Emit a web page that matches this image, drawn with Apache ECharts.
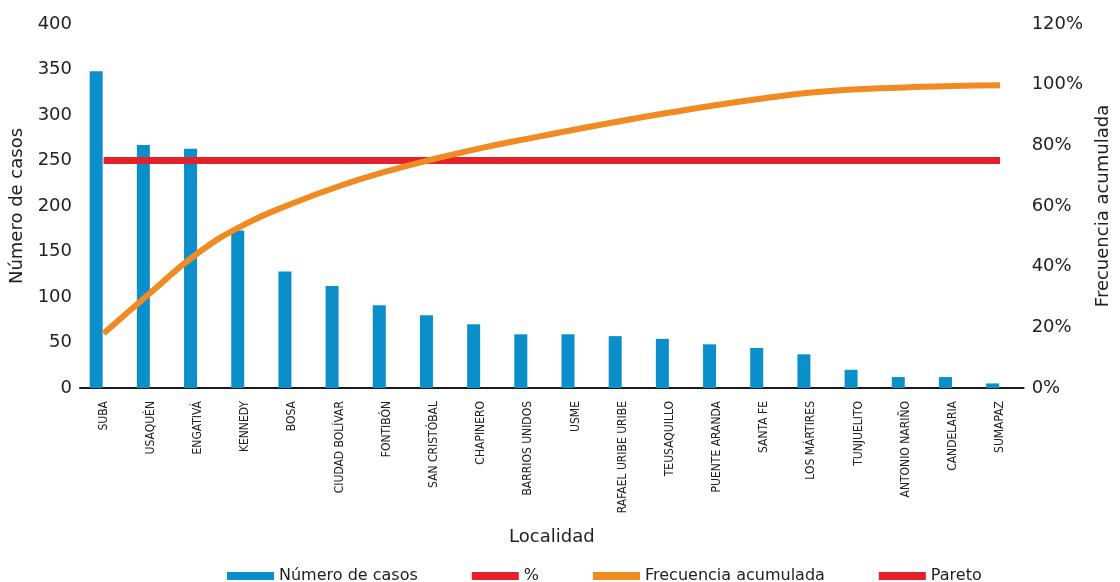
<!DOCTYPE html>
<html>
<head>
<meta charset="utf-8">
<script src="https://cdn.jsdelivr.net/npm/echarts@6/dist/echarts.min.js"></script>
<style>html,body{margin:0;padding:0;background:#fff}#c{width:1120px;height:582px}</style>
</head>
<body>
<div id="c"></div>
<script>
const categories = ["SUBA","USAQUÉN","ENGATIVÁ","KENNEDY","BOSA","CIUDAD BOLÍVAR","FONTIBÓN","SAN CRISTÓBAL","CHAPINERO","BARRIOS UNIDOS","USME","RAFAEL URIBE URIBE","TEUSAQUILLO","PUENTE ARANDA","SANTA FE","LOS MÁRTIRES","TUNJUELITO","ANTONIO NARIÑO","CANDELARIA","SUMAPAZ"];
const casos = [348, 267, 263, 173, 128, 112, 91, 80, 70, 59, 59, 57, 54, 48, 44, 37, 20, 12, 12, 5];
const porcentaje = [];
const frecuenciaAcumulada = [18, 31.5, 44.5, 54, 60.8, 66.6, 71.4, 75.5, 79.1, 82.2, 85.2, 88.1, 90.8, 93.3, 95.5, 97.4, 98.5, 99.1, 99.6, 99.8];
const pareto = [75, 75, 75, 75, 75, 75, 75, 75, 75, 75, 75, 75, 75, 75, 75, 75, 75, 75, 75, 75];
const leftTicks = {min: 0, max: 400, interval: 50};
const rightTicks = {min: 0, max: 120, interval: 20};

const FONT = "DejaVu Sans";
const chart = echarts.init(document.getElementById('c'), null, {renderer: 'canvas'});
chart.setOption({
  animation: false,
  backgroundColor: '#fff',
  grid: {left: 80, right: 85, top: 24, bottom: 194},
  legend: {
    left: 222, top: 563,
    itemWidth: 47, itemHeight: 8, itemGap: 54,
    icon: 'rect',
    textStyle: {fontFamily: FONT, fontSize: 16, color: '#222'},
    data: ['Número de casos', '%', 'Frecuencia acumulada', 'Pareto']
  },
  xAxis: {
    type: 'category',
    data: categories,
    name: 'Localidad',
    nameLocation: 'middle',
    nameGap: 140,
    nameTextStyle: {fontFamily: FONT, fontSize: 18, color: '#222'},
    axisLine: {lineStyle: {color: '#1a1a1a', width: 2}},
    axisTick: {show: false},
    axisLabel: {rotate: 90, interval: 0, margin: 13, fontFamily: "Liberation Sans Narrow, DejaVu Sans Condensed, sans-serif", fontSize: 12, color: '#222'}
  },
  yAxis: [
    {
      type: 'value', min: leftTicks.min, max: leftTicks.max, interval: leftTicks.interval,
      name: 'Número de casos', nameLocation: 'middle', nameGap: 53,
      nameTextStyle: {fontFamily: FONT, fontSize: 18, color: '#222'},
      axisLine: {show: false}, axisTick: {show: false}, splitLine: {show: false},
      axisLabel: {fontFamily: FONT, fontSize: 18, color: '#222', margin: 8}
    },
    {
      type: 'value', min: rightTicks.min, max: rightTicks.max, interval: rightTicks.interval,
      name: 'Frecuencia acumulada', nameLocation: 'middle', nameGap: 68,
      nameTextStyle: {fontFamily: FONT, fontSize: 18, color: '#222'},
      axisLine: {show: false}, axisTick: {show: false}, splitLine: {show: false},
      axisLabel: {fontFamily: FONT, fontSize: 18, color: '#222', margin: 8, formatter: '{value}%'}
    }
  ],
  series: [
    {name: 'Número de casos', type: 'bar', data: casos, barWidth: 13, barGap: '14%', itemStyle: {color: '#0b8fcb'}, z: 2},
    {name: '%', type: 'bar', yAxisIndex: 1, data: porcentaje, barWidth: 13, itemStyle: {color: '#e4212b'}},
    {name: 'Frecuencia acumulada', type: 'line', yAxisIndex: 1, data: frecuenciaAcumulada, smooth: 0.5, symbol: 'none', lineStyle: {color: '#f18a20', width: 6}, itemStyle: {color: '#f18a20'}, z: 4},
    {name: 'Pareto', type: 'line', yAxisIndex: 1, data: pareto, symbol: 'none', lineStyle: {color: '#e4212b', width: 7}, itemStyle: {color: '#e4212b'}, z: 3}
  ]
});
</script>
</body>
</html>
